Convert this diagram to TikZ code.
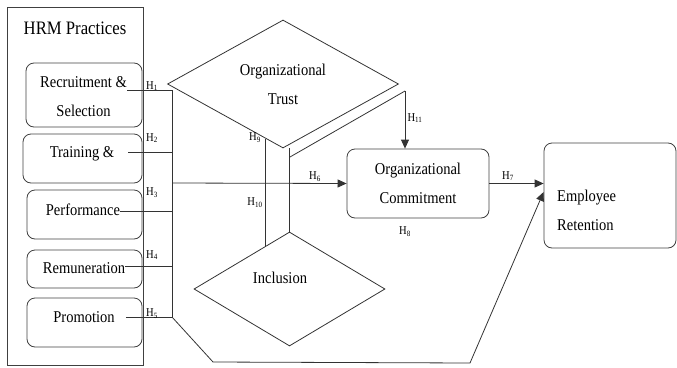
\documentclass[tikz,border=0pt]{standalone}
\usepackage{fontspec}
\setmainfont{Liberation Serif}[FakeStretch=0.88]
\usetikzlibrary{shapes.geometric,arrows.meta}

\begin{document}
\begin{tikzpicture}[x=1pt, y=-1pt, font=\fontsize{16.5}{29}\selectfont]
\tikzset{
  box/.style={rectangle, rounded corners=8pt, draw=black!75, line width=0.8pt, inner sep=0pt},
  dia/.style={diamond, draw=black!80, line width=0.8pt, inner sep=0pt, align=center},
  txt/.style={inner sep=0pt, align=center},
  hyp/.style={inner sep=0pt, font=\fontsize{12}{14}\selectfont},
  ln/.style={draw=black!80, line width=0.8pt},
  arr/.style={ln, -{Triangle[length=9pt, width=8pt]}},
}
\useasboundingbox (0,0) rectangle (677,367);

% HRM practices block
\node[rectangle, draw=black!75, line width=0.8pt, minimum width=136pt, minimum height=358pt] (hrm) at (75,186) {};
\node[txt, font=\fontsize{19}{22}\selectfont] (hrmt) at (75,28) {HRM Practices};

\node[box, minimum width=116pt, minimum height=64pt] (rsb) at (84,95) {};
\node[txt] (rs) at (83.5,97) {Recruitment \&\\Selection};
\node[box, minimum width=119pt, minimum height=49pt] (trb) at (82.5,158.5) {};
\node[txt] (tr) at (82,154) {Training \&};
\node[box, minimum width=115pt, minimum height=49pt] (pfb) at (84.5,214.5) {};
\node[txt] (pf) at (83,210) {Performance};
\node[box, minimum width=115pt, minimum height=38pt] (rmb) at (84.5,269) {};
\node[txt] (rm) at (84,268) {Remuneration};
\node[box, minimum width=115pt, minimum height=49pt] (prb) at (84.5,322.5) {};
\node[txt] (pr) at (84,317) {Promotion};

% mediators and outcomes
\node[dia, minimum width=231pt, minimum height=128pt] (ot) at (283,84) {Organizational\\Trust};
\node[dia, minimum width=191pt, minimum height=114pt] (inc) at (289.5,289) {};
\node[txt] (inct) at (280,278) {Inclusion};
\node[box, minimum width=142pt, minimum height=69pt, align=center] (oc) at (418,183.5) {Organizational\\Commitment};
\node[box, minimum width=132pt, minimum height=105pt] (erb) at (610,195.5) {};
\node[txt, align=left, anchor=west] (er) at (557,210) {Employee\\Retention};

% bus points
\coordinate (b1) at (172,90);
\coordinate (b2) at (172,152);
\coordinate (bm) at (172,183);
\coordinate (b3) at (172,211);
\coordinate (b4) at (172,266);
\coordinate (b5) at (172,317);
\coordinate (p1) at (213,362);
\coordinate (p2) at (470,363);
\coordinate (tk) at (405,91);
\coordinate (tj) at (290,157);

\draw[ln] (rs.east |- b1) -- (b1);
\draw[ln] ([xshift=14pt]tr.east |- b2) -- (b2);
\draw[ln] (pf.east |- b3) -- (b3);
\draw[ln] (rm.east |- b4) -- (b4);
\draw[ln] ([xshift=11pt]pr.east |- b5) -- (b5);
\draw[ln] (b1) -- (b5);
\draw[arr] (bm) -- (oc.west);
\draw[arr] (b5) -- (p1) -- (p2) -- ([yshift=3.5pt]erb.west);
\draw[arr] (oc.east) -- (oc.east -| erb.west);
\draw[ln] (ot.252) -- (ot.252 |- inc.120);
\draw[ln] (inc.north |- ot.south) -- (inc.north);
\draw[ln] (tk) -- (tj);
\draw[arr] (tk) -- (tk |- oc.north);

% hypothesis labels
\node[hyp] (h1) at (152,86) {H\textsubscript{1}};
\node[hyp] (h2) at (152,138) {H\textsubscript{2}};
\node[hyp] (h3) at (152,193) {H\textsubscript{3}};
\node[hyp] (h4) at (152,255) {H\textsubscript{4}};
\node[hyp] (h5) at (152,314) {H\textsubscript{5}};
\node[hyp] (h6) at (315,177) {H\textsubscript{6}};
\node[hyp] (h7) at (508,176) {H\textsubscript{7}};
\node[hyp] (h8) at (405,232) {H\textsubscript{8}};
\node[hyp] (h9) at (255,138) {H\textsubscript{9}};
\node[hyp] (h10) at (255,203) {H\textsubscript{10}};
\node[hyp] (h11) at (415,118) {H\textsubscript{11}};
\end{tikzpicture}
\end{document}
